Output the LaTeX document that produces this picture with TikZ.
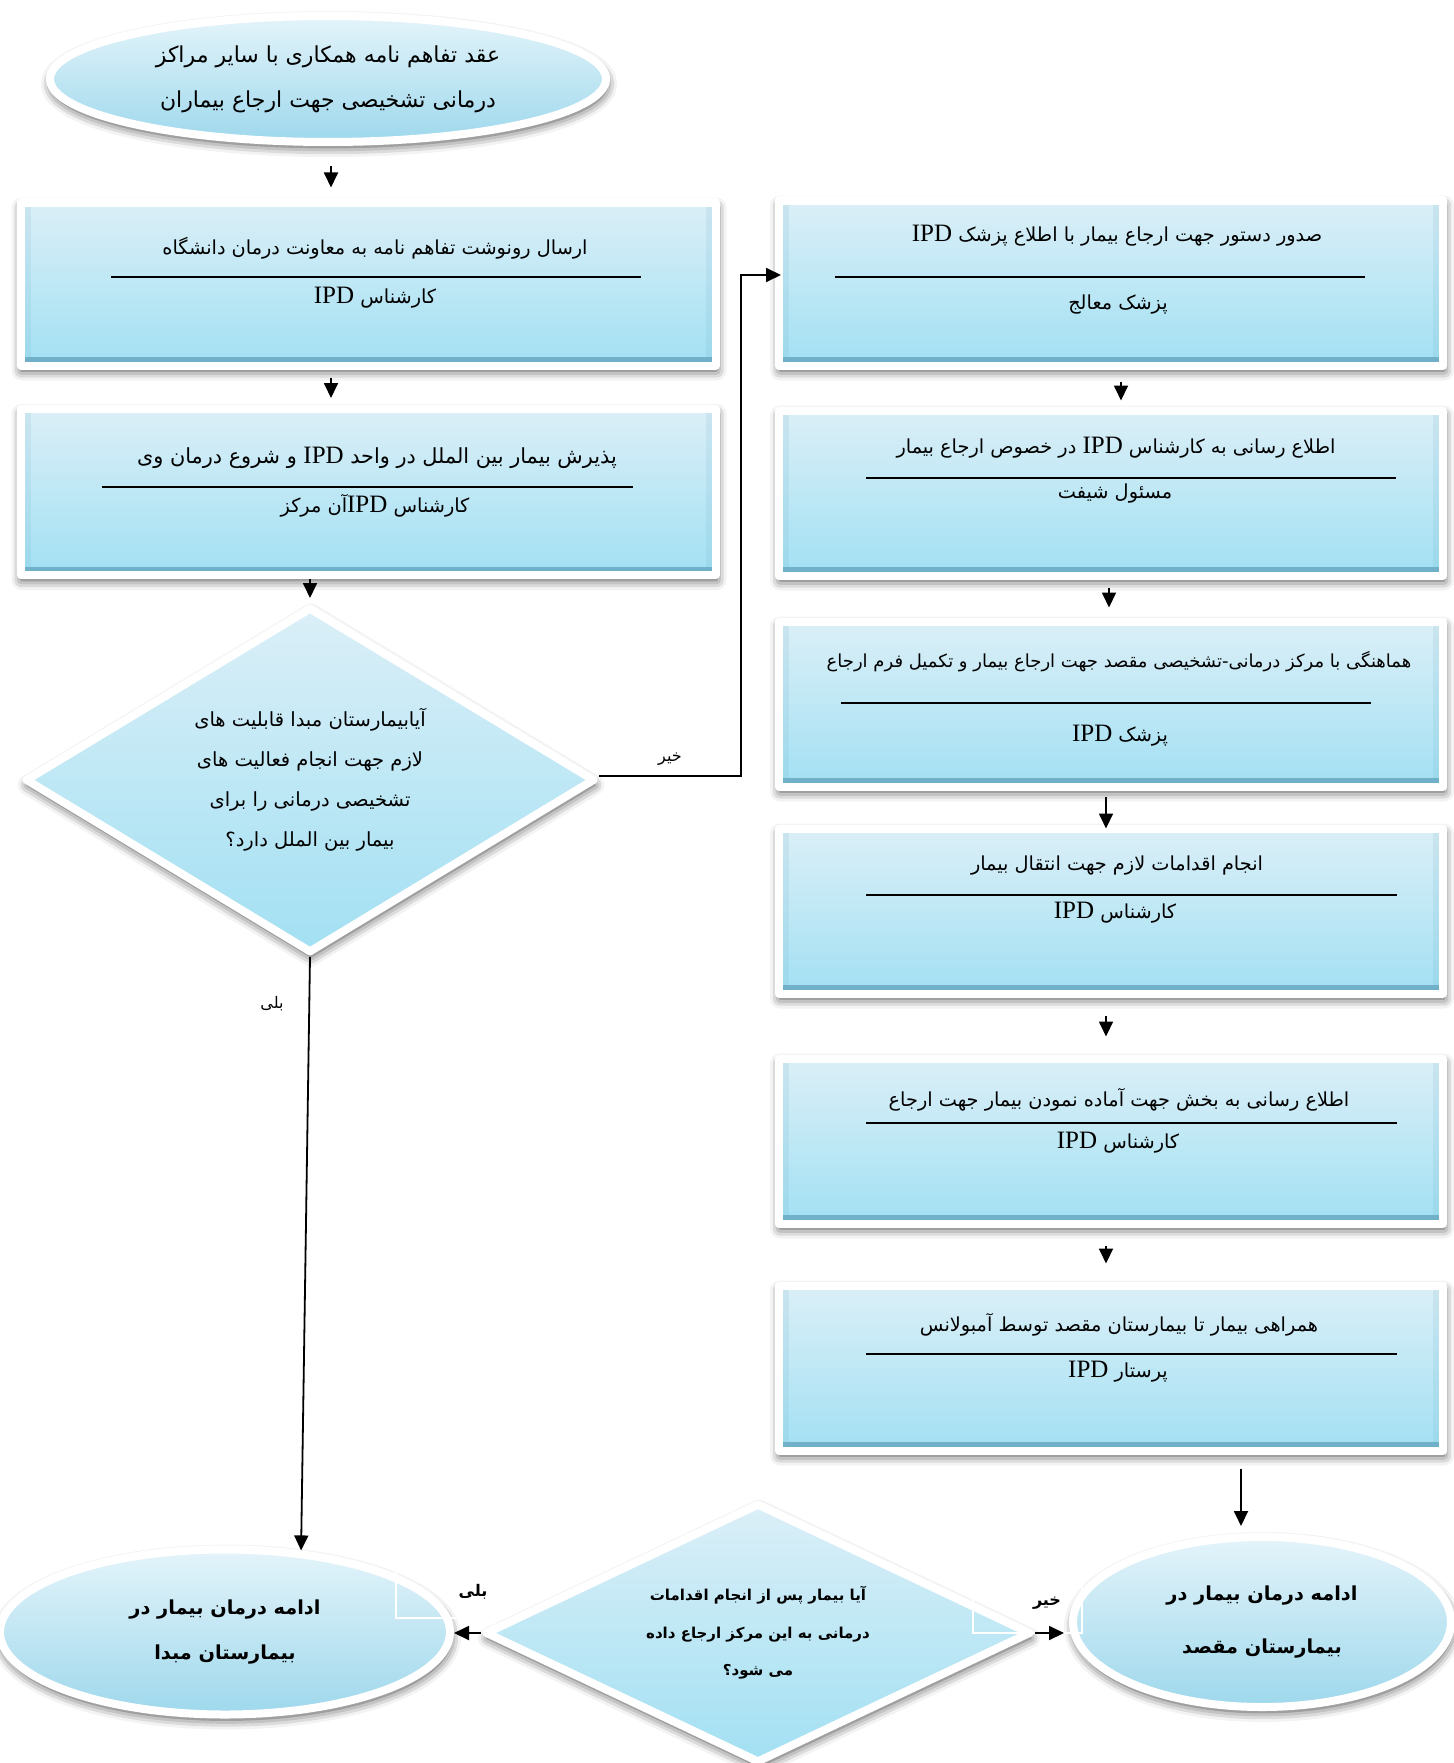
\documentclass[tikz,border=0pt]{standalone}
\usepackage{fontspec}
\setmainfont{Liberation Serif}
\newfontfamily\farsi[Script=Arabic]{DejaVu Sans}
\usetikzlibrary{shapes.geometric,shadows.blur,arrows.meta}
\TeXXeTstate=1
\newcommand\fa[1]{{\farsi\beginR #1\endR}}
\newcommand\ipd{{\rmfamily\fontsize{25}{25}\selectfont\beginL IPD\endL}}
\definecolor{cardtop}{RGB}{219,239,247}
\definecolor{cardbot}{RGB}{162,224,243}
\definecolor{cardedge}{RGB}{112,176,200}
\definecolor{ovaltop}{RGB}{228,244,250}
\definecolor{ovalbot}{RGB}{158,216,236}

\begin{document}
\begin{tikzpicture}[x=1pt,y=-1pt,>={Triangle[length=15pt,width=14pt]},line width=1.6pt,
    blue shape/.style={draw=white,line width=8pt,line join=round,
      blur shadow={shadow blur radius=10pt,shadow xshift=1pt,shadow yshift=-5pt,shadow opacity=75}},
    proc node/.style={blue shape,rectangle,inner sep=0pt,minimum width=664pt,minimum height=165pt,
      top color=cardtop,bottom color=cardbot,
      path picture={
        \fill[cardedge] ([yshift=4pt]path picture bounding box.south west) rectangle ([yshift=8.5pt]path picture bounding box.south east);
        \fill[cardedge,opacity=.15] ([xshift=4pt]path picture bounding box.north west) rectangle ([xshift=10pt]path picture bounding box.south west);
        \fill[cardedge,opacity=.15] ([xshift=-4pt]path picture bounding box.north east) rectangle ([xshift=-10pt]path picture bounding box.south east);}},
    choice node/.style={blue shape,diamond,aspect=1.66,inner sep=0pt,align=center,
      top color=cardtop,bottom color=cardbot},
    end node/.style={blue shape,ellipse,inner sep=0pt,align=center,
      top color=ovaltop,bottom color=ovalbot},
    card text/.style={font=\fontsize{19.3}{22}\selectfont,inner sep=0pt},
    branch label/.style={font=\fontsize{16}{18}\selectfont,inner sep=0pt},
    rule line/.style={line width=1.8pt},
    flow/.style={->,line width=1.8pt}]
  \useasboundingbox (0,0) rectangle (1453,1763);

  % left column
  \node[end node,minimum width=556pt,minimum height=126pt,font=\fontsize{22}{45}\selectfont] (start) at (328,79)
    {\fa{عقد تفاهم نامه همکاری با سایر مراکز}\\\fa{درمانی تشخیصی جهت ارجاع بیماران}};

  \node[proc node,minimum width=695pt,minimum height=163pt] (b1) at (368,284) {};
  \node[card text] (b1a) at (375,248) {\fa{ارسال رونوشت تفاهم نامه به معاونت درمان دانشگاه}};
  \draw[rule line] (111,277) -- (641,277);
  \node[card text] (b1b) at (375,298) {\fa{کارشناس \ipd}};

  \node[proc node,minimum width=695pt,minimum height=166pt] (b2) at (368,492) {};
  \node[card text,font=\fontsize{20.8}{22}\selectfont] (b2a) at (377,458) {\fa{پذیرش بیمار بین الملل در واحد \ipd{} و شروع درمان وی}};
  \draw[rule line] (102,487) -- (633,487);
  \node[card text] (b2b) at (375,506) {\fa{کارشناس \ipd{}آن مرکز}};

  \node[choice node,minimum width=570pt,minimum height=346pt,font=\fontsize{19.5}{40}\selectfont] (d1) at (310,780)
    {\fa{آیابیمارستان مبدا قابلیت های}\\\fa{لازم جهت انجام فعالیت های}\\\fa{تشخیصی درمانی را برای}\\\fa{بیمار بین الملل دارد؟}};

  \node[end node,minimum width=450pt,minimum height=165pt,font=\fontsize{19.3}{45}\selectfont\bfseries] (endl) at (225,1632)
    {\fa{ادامه درمان بیمار در}\\\fa{بیمارستان مبدا}};

  % right column
  \node[proc node] (r1) at (1111,283) {};
  \node[card text] (r1a) at (1117,236) {\fa{صدور دستور جهت ارجاع بیمار با اطلاع پزشک \ipd}};
  \draw[rule line] (835,277) -- (1365,277);
  \node[card text] (r1b) at (1118,305) {\fa{پزشک معالج}};

  \node[proc node] (r2) at (1111,493) {};
  \node[card text] (r2a) at (1116,448) {\fa{اطلاع رسانی به کارشناس \ipd{} در خصوص ارجاع بیمار}};
  \draw[rule line] (866,478) -- (1396,478);
  \node[card text] (r2b) at (1115,494) {\fa{مسئول شیفت}};

  \node[proc node] (r3) at (1111,704) {};
  \node[card text,font=\fontsize{18}{22}\selectfont] (r3a) at (1119,662) {\fa{هماهنگی با مرکز درمانی-تشخیصی مقصد جهت ارجاع بیمار و تکمیل فرم ارجاع}};
  \draw[rule line] (841,703) -- (1371,703);
  \node[card text] (r3b) at (1120,736) {\fa{پزشک \ipd}};

  \node[proc node] (r4) at (1111,911) {};
  \node[card text] (r4a) at (1117,866) {\fa{انجام اقدامات لازم جهت انتقال بیمار}};
  \draw[rule line] (866,895) -- (1397,895);
  \node[card text] (r4b) at (1115,913) {\fa{کارشناس \ipd}};

  \node[proc node] (r5) at (1111,1141) {};
  \node[card text] (r5a) at (1119,1100) {\fa{اطلاع رسانی به بخش جهت آماده نمودن بیمار جهت ارجاع}};
  \draw[rule line] (866,1123) -- (1397,1123);
  \node[card text] (r5b) at (1118,1143) {\fa{کارشناس \ipd}};

  \node[proc node] (r6) at (1111,1368) {};
  \node[card text] (r6a) at (1119,1325) {\fa{همراهی بیمار تا بیمارستان مقصد توسط آمبولانس}};
  \draw[rule line] (866,1354) -- (1397,1354);
  \node[card text] (r6b) at (1118,1372) {\fa{پرستار \ipd}};

  \node[end node,minimum width=378pt,minimum height=170pt,font=\fontsize{19.3}{53}\selectfont\bfseries] (endr) at (1262,1622)
    {\fa{ادامه درمان بیمار در}\\\fa{بیمارستان مقصد}};

  % bottom question
  \node[choice node,aspect=2.1,minimum width=546pt,minimum height=260pt,font=\fontsize{15}{37.5}\selectfont\bfseries] (d2) at (758,1633)
    {\fa{آیا بیمار پس از انجام اقدامات}\\\fa{درمانی به این مرکز ارجاع داده}\\\fa{می شود؟}};

  % stray white frames
  \draw[white,line width=1.4pt] (396,1563) -- (396,1618) -- (505,1618) -- (505,1607);
  \draw[white,line width=1.4pt] (973,1593) -- (973,1633) -- (1082,1633) -- (1082,1580);

  % connectors
  \draw[flow,shorten <=20pt,shorten >=11pt] ([xshift=3pt]start.south) -- ([xshift=3pt]start.south |- b1.north);
  \draw[flow,shorten <=8pt,shorten >=7pt] ([xshift=-37pt]b1.south) -- ([xshift=-37pt]b2.north);
  \draw[flow,shorten >=5pt] (b2.south -| d1.north) -- (d1.north);
  \draw[flow,shorten >=-6pt] ([yshift=4pt]d1.east) -- ++(142,0) |- ([yshift=8pt]r1.west);
  \draw[flow] (d1.south) -- (endl.47);
  \draw[flow,shorten <=12pt,shorten >=6pt] ([xshift=10pt]r1.south) -- ([xshift=10pt]r2.north);
  \draw[flow,shorten <=8pt,shorten >=10pt] ([xshift=-2pt]r2.south) -- ([xshift=-2pt]r3.north);
  \draw[flow,shorten <=6pt,shorten >=-4pt] ([xshift=-5pt]r3.south) -- ([xshift=-5pt]r4.north);
  \draw[flow,shorten <=18pt,shorten >=18pt] ([xshift=-5pt]r4.south) -- ([xshift=-5pt]r5.north);
  \draw[flow,shorten <=18pt,shorten >=18pt] ([xshift=-5pt]r5.south) -- ([xshift=-5pt]r6.north);
  \draw[flow,shorten <=14pt,shorten >=7pt] ([xshift=130pt]r6.south) -- ([xshift=130pt]r6.south |- endr.north);
  \draw[flow] (d2.west) -- (d2.west -| endl.east);
  \draw[flow,shorten >=5pt] (d2.east) -- (d2.east -| endr.west);

  \node[branch label] (no1) at (670,759) {\fa{خیر}};
  \node[branch label] (yes1) at (272,1004) {\fa{بلی}};
  \node[branch label,font=\fontsize{16}{18}\selectfont\bfseries] (yes2) at (473,1592) {\fa{بلی}};
  \node[branch label,font=\fontsize{16}{18}\selectfont\bfseries] (no2) at (1047,1603) {\fa{خیر}};
\end{tikzpicture}
\end{document}
